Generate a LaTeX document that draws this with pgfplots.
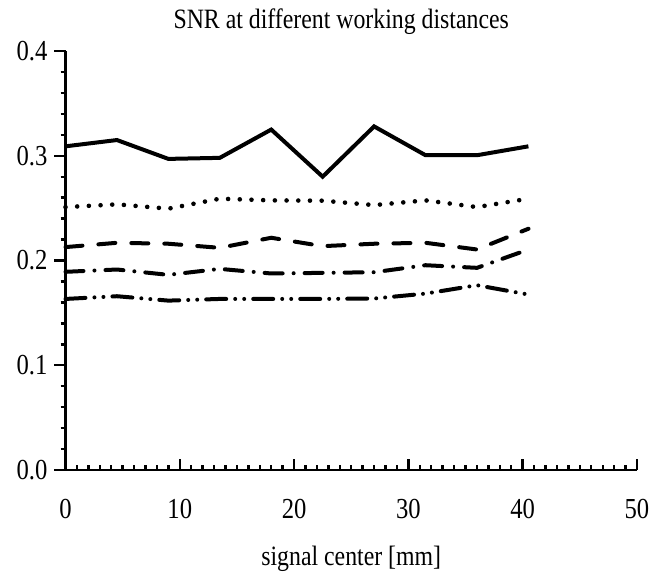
\documentclass[border=0pt]{standalone}
\usepackage{fontspec}
\setmainfont{Liberation Serif}[FakeStretch=0.85]
\usepackage{pgfplots}
\pgfplotsset{compat=1.18}

\begin{document}
\begin{tikzpicture}
\path[use as bounding box] (-32.75pt,-51.5pt) rectangle (296.25pt,235pt);
\begin{axis}[
  at={(0pt,0pt)}, anchor=south west,
  scale only axis, width=285.75pt, height=209.5pt,
  xmin=0, xmax=50, ymin=0, ymax=0.4,
  axis x line=bottom, axis y line=left,
  axis line style={-, line width=1.3pt},
  xtick={0,10,20,30,40,50}, ytick={0,0.1,0.2,0.3,0.4},
  minor x tick num=9, minor y tick num=4,
  xtick align=inside, ytick align=outside,
  major tick length=5.5pt, minor tick length=2.5pt,
  tick style={black, line width=1.2pt},
  /pgf/number format/assume math mode=true,
  yticklabel style={/pgf/number format/.cd, fixed, fixed zerofill, precision=1},
  font=\fontsize{14.5}{17}\selectfont,
  xticklabel style={anchor=base, yshift=-24pt},
  title={SNR at different working distances},
  title style={at={(0.5,1)}, anchor=base, yshift=5.5pt, xshift=-5pt, font=\fontsize{14}{17}\selectfont},
  xlabel={signal center [mm]},
  xlabel style={at={(0.5,0)}, anchor=base, yshift=-47.5pt, font=\fontsize{14}{17}\selectfont},
  clip=false,
  every axis plot/.append style={black, line width=2pt, line cap=round},
]
\addplot[solid, line join=miter, line cap=butt] coordinates {
 (0,0.309) (4.5,0.315) (9,0.297) (13.5,0.298) (18,0.325)
 (22.5,0.280) (27,0.328) (31.5,0.3005) (36,0.3005) (40.5,0.309)};
\addplot[dash pattern=on 0pt off 5.85pt, line width=2.3pt] coordinates {
 (0,0.2510) (4.5,0.2536) (9,0.2495) (13.5,0.2590) (18,0.2574)
 (22.5,0.2571) (27,0.2529) (31.5,0.2574) (36,0.2510) (40.5,0.2590)};
\addplot[dash pattern=on 8.5pt off 8pt] coordinates {
 (0,0.2128) (4.5,0.2169) (9,0.2160) (13.5,0.2121) (18,0.2217)
 (22.5,0.2137) (27,0.2160) (31.5,0.2169) (36,0.2105) (40.5,0.2303)};
\addplot[dash pattern=on 9pt off 5.5pt on 0pt off 5.5pt] coordinates {
 (0,0.1892) (4.5,0.1914) (9,0.1863) (13.5,0.1920) (18,0.1876)
 (22.5,0.1882) (27,0.1888) (31.5,0.1955) (36,0.1930) (40.5,0.2105)};
\addplot[dash pattern=on 10pt off 4.5pt on 0pt off 4.5pt on 0pt off 4.5pt] coordinates {
 (0,0.1633) (4.5,0.1659) (9,0.1617) (13.5,0.1633) (18,0.1633)
 (22.5,0.1633) (27,0.1637) (31.5,0.1684) (36,0.1764) (40.5,0.1675)};
\end{axis}
\end{tikzpicture}
\end{document}
